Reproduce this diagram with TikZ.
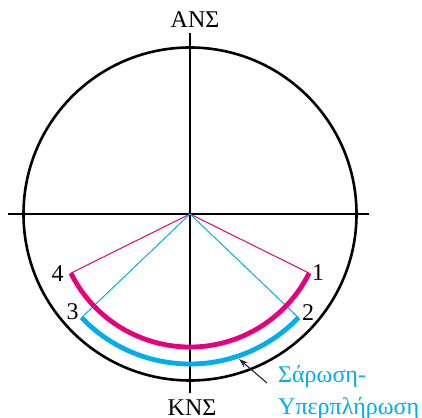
\documentclass[tikz,border=0pt]{standalone}
\usepackage{fontspec}
\setmainfont{Liberation Serif}
\usetikzlibrary{arrows.meta,calc}
\definecolor{mag}{RGB}{230,0,126}
\definecolor{cyanb}{RGB}{0,174,239}
\begin{document}
\begin{tikzpicture}[x=1pt,y=1pt,
  lbl/.style={font=\fontsize{24}{28.8}\selectfont, inner sep=0pt},
  axis/.style={line width=1.3pt, black},
  ray/.style={line width=1pt},
  band/.style={line width=4.8pt},
  note/.style={-{Stealth[length=9pt,width=6pt]}, line width=1.1pt, black!85}]
\useasboundingbox (0,0) rectangle (422,417);
\coordinate (C) at (190,203);
\draw[line width=2.6pt] (C) circle[radius=166.5];
\coordinate (L) at (8,203);
\coordinate (R) at (369,203);
\coordinate (T) at (190,384);
\coordinate (B) at (190,24);
\draw[axis] (L) -- (R);
\draw[axis] (T) -- (B);
% points
\coordinate (P1) at ($(C)+(-26.4:133)$);
\coordinate (P4) at ($(C)+(206.4:133)$);
\coordinate (P2) at ($(C)+(-43.7:150)$);
\coordinate (P3) at ($(C)+(223.7:150)$);
\draw[ray, mag] (P4) -- (C) -- (P1);
\draw[ray, cyanb] (P3) -- (C) -- (P2);
\draw[band, mag] (P4) arc[start angle=206.4, end angle=333.6, radius=133];
\draw[band, cyanb] (P3) arc[start angle=223.7, end angle=316.3, radius=150];
\node[lbl] (n1) at (318,144.5) {1};
\node[lbl] (n2) at (308,104) {2};
\node[lbl] (n3) at (72.5,105.5) {3};
\node[lbl] (n4) at (57.5,143.5) {4};
\node[lbl, anchor=base] (ans) at (195,389) {ΑΝΣ};
\node[lbl, anchor=base] (kns) at (192,1.5) {ΚΝΣ};
\node[lbl, anchor=base west, text=cyanb] (s1) at (278,34.3) {Σάρωση-};
\node[lbl, anchor=base west, text=cyanb] (s2) at (278,3) {Υπερπλήρωση};
\coordinate (at) at (267,34);
\coordinate (ah) at (239,58);
\draw[note] (at) -- (ah);
\end{tikzpicture}
\end{document}
